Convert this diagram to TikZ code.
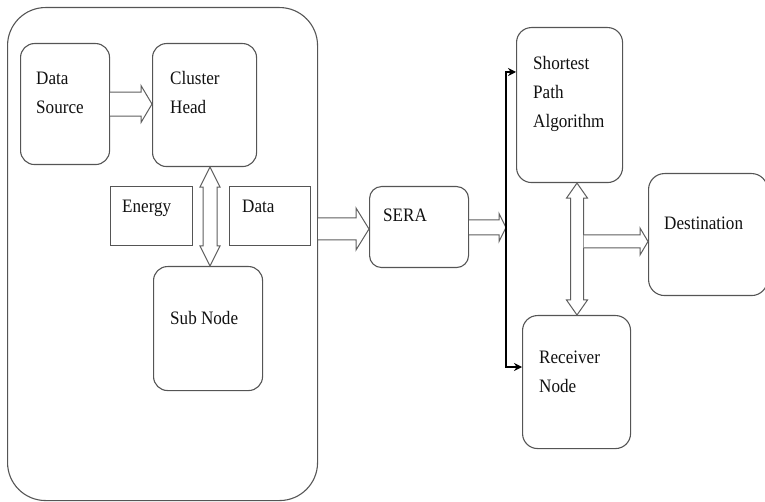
\documentclass[tikz,border=0pt]{standalone}
\usepackage{fontspec}
\setmainfont{Liberation Serif}[FakeStretch=0.9]
\usetikzlibrary{calc,arrows.meta}

\definecolor{linegray}{HTML}{555555}
\definecolor{arrowgray}{HTML}{5E5E5E}
\definecolor{inkcol}{HTML}{111111}

\tikzset{
  box/.style={draw=linegray, line width=1.1pt, inner sep=0pt, anchor=north west},
  txt/.style={inner sep=0pt, anchor=base west, text=inkcol,
              font=\fontsize{19}{29}\selectfont},
  multi/.style={txt, text width=130pt, align=left},
  hollow/.style={draw=arrowgray, line width=1pt, fill=white, line join=miter},
  bus/.style={draw=black, line width=1.6pt,
              {Stealth[length=8pt,width=8pt]}-{Stealth[length=8pt,width=8pt]}}
}

% hollow block arrow pointing right: tail, tip, shaft half, head half, head length
\newcommand\blockright[5]{%
  \draw[hollow] let \p1=#1, \p2=#2 in
    (\x1,\y1+#3) -- (\x2-#5,\y1+#3) -- (\x2-#5,\y1+#4) -- (\x2,\y1)
    -- (\x2-#5,\y1-#4) -- (\x2-#5,\y1-#3) -- (\x1,\y1-#3);}

% hollow vertical double block arrow: top tip, bottom tip, shaft half, head half, head length
\newcommand\blockupdown[5]{%
  \draw[hollow] let \p1=#1, \p2=#2 in
    (\x1,\y1) -- (\x1+#4,\y1-#5) -- (\x1+#3,\y1-#5) -- (\x1+#3,\y2+#5)
    -- (\x1+#4,\y2+#5) -- (\x1,\y2) -- (\x1-#4,\y2+#5) -- (\x1-#3,\y2+#5)
    -- (\x1-#3,\y1-#5) -- (\x1-#4,\y1-#5) -- cycle;}

\begin{document}
\begin{tikzpicture}[x=1pt, y=-1pt]
  \useasboundingbox (0,0) rectangle (765,502);

  % cluster region
  \node[box, rounded corners=38pt, minimum width=310pt, minimum height=493pt] (outer) at (7,7) {};

  % boxes
  \node[box, rounded corners=14pt, minimum width=89pt,  minimum height=121pt] (ds)  at (20,43) {};
  \node[box, rounded corners=14pt, minimum width=104pt, minimum height=123pt] (ch)  at (152,43) {};
  \node[box, minimum width=82pt, minimum height=59pt] (en) at (110,186) {};
  \node[box, minimum width=81pt, minimum height=59pt] (da) at (229,186) {};
  \node[box, rounded corners=14pt, minimum width=109pt, minimum height=124pt] (sub) at (153,266) {};
  \node[box, rounded corners=12pt, minimum width=99pt,  minimum height=81pt]  (sera) at (369,186) {};
  \node[box, rounded corners=15pt, minimum width=106pt, minimum height=155pt] (spa) at (516,27) {};
  \node[box, rounded corners=15pt, minimum width=108pt, minimum height=133pt] (rcv) at (522,315) {};
  \node[box, rounded corners=16pt, minimum width=119pt, minimum height=122pt] (dst) at (648,173) {};

  % labels
  \node[multi] (dsT)  at (36,85)   {Data\\Source};
  \node[multi] (chT)  at (170,85)  {Cluster\\Head};
  \node[txt]   (enT)  at (122,213) {Energy};
  \node[txt]   (daT)  at (242,213) {Data};
  \node[txt]   (subT) at (170,324) {Sub Node};
  \node[txt]   (seT)  at (383,222) {SERA};
  \node[multi] (spT)  at (533,70)  {Shortest\\Path\\Algorithm};
  \node[multi] (rcT)  at (539,363) {Receiver\\Node};
  \node[txt]   (dtT)  at (664,230) {Destination};

  % bus points
  \coordinate (bt) at (506,72);
  \coordinate (bb) at (506,367);
  \coordinate (mid) at (583.5,241.5);

  % block arrows
  \blockright{(ds.east)}{(ch.west |- ds.east)}{12pt}{18.5pt}{11pt}
  \blockupdown{(ch.south -| 210,0)}{(sub.north -| 210,0)}{7pt}{10pt}{20pt}
  \blockright{(outer.east |- 0,229)}{(sera.west |- 0,229)}{11pt}{21pt}{13pt}
  \blockright{(sera.east |- 0,227.5)}{(bt |- 0,227.5)}{7.5pt}{14pt}{7pt}
  \blockupdown{(spa.south -| 577,0)}{(rcv.north -| 577,0)}{6.5pt}{10.5pt}{15pt}
  \blockright{(mid)}{(dst.west |- mid)}{6.5pt}{13.5pt}{8pt}

  % distribution line to the two right-hand blocks
  \draw[bus] (spa.west |- bt) -- (bt) -- (bb) -- (rcv.west |- bb);
\end{tikzpicture}
\end{document}
